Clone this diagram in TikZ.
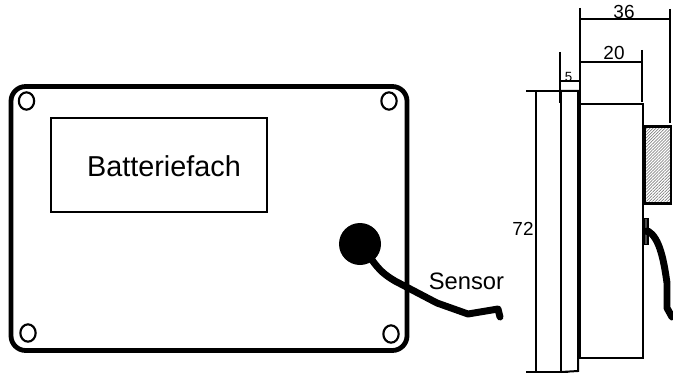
\documentclass[tikz,border=0pt]{standalone}
\usepackage{fontspec}
\setmainfont{Liberation Sans}
\usetikzlibrary{patterns.meta, shapes.geometric}
\begin{document}
\begin{tikzpicture}[x=0.75pt, y=-0.75pt,
    housing/.style={rectangle, draw, line width=3.6pt, rounded corners=11pt, minimum width=297pt, minimum height=198pt, inner sep=0pt},
    compartment/.style={rectangle, draw, line width=1.5pt, minimum width=162pt, minimum height=70pt},
    screw/.style={ellipse, draw, line width=1.6pt, minimum width=11.5pt, minimum height=13pt, inner sep=0pt},
    probe/.style={circle, fill=black, minimum size=31.5pt, inner sep=0pt},
    cable/.style={line width=5.2pt, line cap=round, line join=round},
    dimline/.style={line width=1.5pt},
    outline/.style={draw, line width=1.5pt},
    dimtext/.style={inner sep=0pt, font=\fontsize{14.2pt}{16pt}\selectfont},
    labeltext/.style={inner sep=0pt, font=\fontsize{17.8pt}{20pt}\selectfont}]
\useasboundingbox (0,0) rectangle (673,374);

% Front view
\node [housing] (housing) at (209,218.5) {};
\node [compartment] (fach) at (158.5,165) {};
\node [inner sep=0pt, font=\fontsize{21.6pt}{24pt}\selectfont] (fachtext) at (164,166) {Batteriefach};
\node [screw] (screwA) at (26.5,101) {};
\node [screw] (screwB) at (389,101) {};
\node [screw] (screwC) at (28,333) {};
\node [screw] (screwD) at (391,334) {};
\node [probe] (probe) at (360,244) {};
\node [labeltext] (sensor) at (466.5,281) {Sensor};
\coordinate (tail) at (500,317);
\draw [cable] (probe.center) -- (372,260) .. controls (380,271) and (385,275) .. (395,281) -- (437,303) -- (468,314) -- (498,309) -- (tail);

% Side view
\coordinate (plateA) at (536,91);
\coordinate (plateB) at (536,372);
\coordinate (plateC) at (561,91);
\coordinate (plateD) at (561,372);
\coordinate (plateE) at (578,91);
\coordinate (plateF) at (578,371);
\draw [outline] (plateA) -- (plateB);
\draw [outline, line width=1.8pt] (plateC) -- (plateD);
\draw [outline] (plateC) -- (plateE) -- (plateF) -- (plateD);
\node [draw, line width=1.5pt, minimum width=48pt, minimum height=190.5pt, inner sep=0pt] (body) at (611,231) {};
\draw [line width=2.6pt] (579,104) -- (579,358);
\node [draw, line width=2pt, pattern={Lines[angle=45, distance=1.6pt, line width=.4pt]}, pattern color=black!60, minimum width=20pt, minimum height=58pt, inner sep=0pt] (cover) at (657.5,165) {};
\node [draw, fill=black!70, line width=.9pt, minimum width=3pt, minimum height=19pt, inner sep=0pt] (socket) at (646,231.5) {};
\coordinate (lead) at (672,317);
\draw [cable] (socket.center) -- (648,231) .. controls (660,238) and (664,262) .. (667,283) -- (667,308) -- (lead);

% Dimensions
\node [dimtext] (dimA) at (624,12) {36};
\node [dimtext] (dimB) at (614,53) {20};
\node [dimtext, font=\fontsize{10pt}{11pt}\selectfont] (dimC) at (568.5,77) {5};
\node [dimtext] (dimD) at (523,229) {72};
\coordinate (dimAl) at (580,19);
\coordinate (dimAr) at (670,19);
\coordinate (dimBl) at (580,62);
\coordinate (dimBr) at (642,62);
\coordinate (dimCl) at (560,81);
\coordinate (dimCr) at (579,81);
\draw [dimline] (dimAl) -- (dimAr);
\draw [dimline] (dimBl) -- (dimBr);
\draw [dimline] (dimCl) -- (dimCr);
\draw [dimline] (580,8) -- (580,122);
\draw [dimline] (670,9) -- (670,123);
\draw [dimline] (642,50) -- (642,102);
\draw [dimline] (560,52) -- (560,103);
\draw [dimline] (526,91) -- (568,91);
\draw [dimline] (526,372) -- (568,372);

\end{tikzpicture}
\end{document}
